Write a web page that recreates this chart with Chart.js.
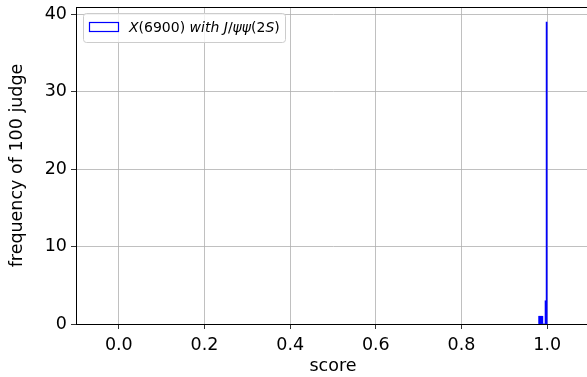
<!DOCTYPE html>
<html>
<head>
<meta charset="utf-8">
<script src="https://cdn.jsdelivr.net/npm/chart.js@4.4.0/dist/chart.umd.min.js"></script>
<style>
  html, body { margin: 0; padding: 0; background: #fff; overflow: hidden; }
  #wrap { width: 587px; height: 377px; overflow: hidden; }
</style>
</head>
<body>
<div id="wrap"><canvas id="histChart" width="620" height="377"></canvas></div>
<script>
// histogram bins (centres) and counts
const binCenters = [0.98125, 0.98375, 0.98625, 0.98875, 0.99125, 0.99375, 0.99625, 0.99875];
const binCounts = [1, 1, 1, 1, 0, 0, 3, 39];
const xTicks = [0.0, 0.2, 0.4, 0.6, 0.8, 1.0];
const yTicks = [0, 10, 20, 30, 40];

const FONT = "'DejaVu Sans', sans-serif";

// matplotlib style frame + legend inside the axes
const framePlugin = {
  id: "frame",
  afterDraw(chart) {
    const { ctx, chartArea: a } = chart;
    ctx.save();
    ctx.strokeStyle = "#000";
    ctx.lineWidth = 1;
    ctx.strokeRect(a.left + 0.5, a.top + 0.5, a.right - a.left, a.bottom - a.top);

    // legend box
    const lx = 83, ly = 13, lw = 202, lh = 29;
    ctx.globalAlpha = 0.8;
    ctx.fillStyle = "#fff";
    ctx.beginPath();
    ctx.roundRect(lx + 0.5, ly + 0.5, lw, lh, 3);
    ctx.fill();
    ctx.globalAlpha = 1;
    ctx.strokeStyle = "#cccccc";
    ctx.stroke();
    ctx.strokeStyle = "#0000ff";
    ctx.lineWidth = 1.2;
    ctx.strokeRect(89.5, 22.5, 29, 9);

    // mathtext-like label: italic letters, upright digits
    const parts = [
      ["X", true], ["(6900)", false], [" with ", true], ["J", true], ["/", false],
      ["ψψ", true], ["(2", false], ["S", true], [")", false]
    ];
    let x = 129;
    ctx.fillStyle = "#000";
    ctx.textBaseline = "middle";
    parts.forEach(([t, it]) => {
      ctx.font = (it ? "italic " : "") + "14px " + FONT;
      ctx.fillText(t, x, 28);
      x += ctx.measureText(t).width;
    });
    ctx.restore();
  }
};

new Chart(document.getElementById("histChart"), {
  type: "bar",
  data: {
    datasets: [{
      label: "X(6900) with J/ψψ(2S)",
      data: binCenters.map((c, i) => ({ x: c, y: binCounts[i] })),
      backgroundColor: "#0000ff",
      borderWidth: 0,
      barPercentage: 1,
      categoryPercentage: 1
    }]
  },
  options: {
    responsive: false,
    animation: false,
    layout: { padding: { top: 7, right: 30, left: 0, bottom: 0 } },
    plugins: {
      legend: { display: false },
      tooltip: { enabled: false }
    },
    scales: {
      x: {
        type: "linear",
        min: -0.1,
        max: 1.1,
        offset: false,
        afterFit: s => { s.height = 53; s.paddingLeft = 0; s.paddingRight = 0; },
        afterBuildTicks: s => { s.ticks = xTicks.map(v => ({ value: v })); },
        grid: { color: "#b0b0b0", lineWidth: 0.8, tickColor: "#000", tickLength: 5, offset: false },
        border: { color: "#000", width: 1 },
        ticks: {
          color: "#000", padding: 6, maxRotation: 0,
          font: { family: FONT, size: 17.5 },
          callback: v => v.toFixed(1)
        },
        title: {
          display: true, text: "score", color: "#000",
          font: { family: FONT, size: 17.5 }, padding: { top: 0, bottom: 0 }
        }
      },
      y: {
        min: 0,
        max: 40.95,
        afterFit: s => { s.width = 76; s.paddingTop = 0; s.paddingBottom = 0; },
        afterBuildTicks: s => { s.ticks = yTicks.map(v => ({ value: v })); },
        grid: { color: "#b0b0b0", lineWidth: 0.8, tickColor: "#000", tickLength: 5 },
        border: { color: "#000", width: 1 },
        ticks: {
          color: "#000", padding: 4,
          font: { family: FONT, size: 17.5 }
        },
        title: {
          display: true, text: "frequency of 100 judge", color: "#000",
          font: { family: FONT, size: 17.5 }, padding: { top: 7, bottom: 0 }
        }
      }
    }
  },
  plugins: [framePlugin]
});
</script>
</body>
</html>
